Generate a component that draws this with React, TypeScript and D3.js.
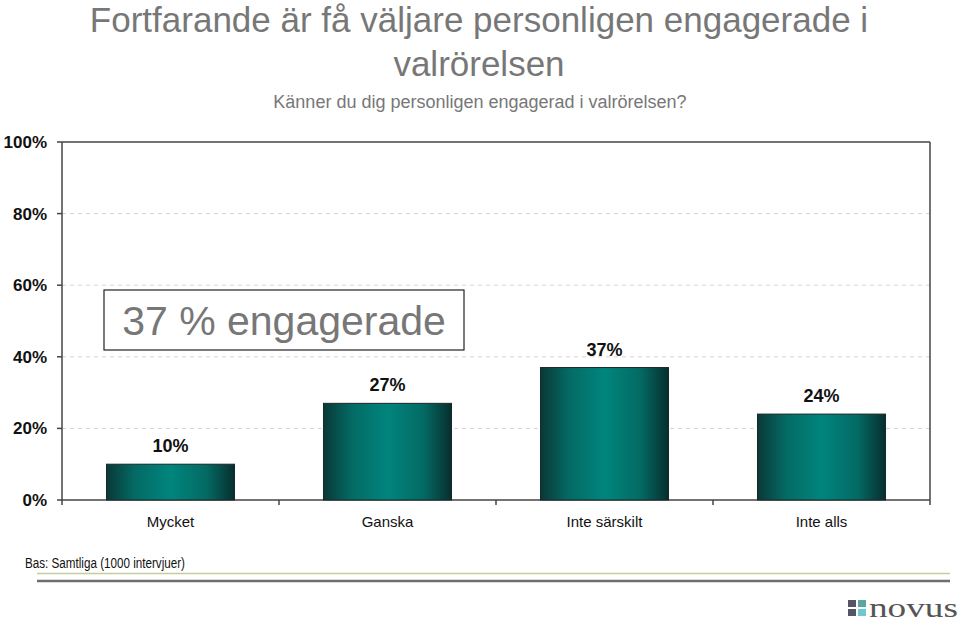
import React from "react";
import * as d3 from "d3";

const categories = ["Mycket", "Ganska", "Inte särskilt", "Inte alls"];
const values = [10, 27, 37, 24];
const yTicks = [0, 20, 40, 60, 80, 100];
const titleLines = ["Fortfarande är få väljare personligen engagerade i", "valrörelsen"];
const subtitle = "Känner du dig personligen engagerad i valrörelsen?";
const boxText = "37 % engagerade";
const footnote = "Bas: Samtliga (1000 intervjuer)";

const W = 960;
const H = 626;
const plot = { left: 62, right: 930, top: 142, bottom: 500 };

export default function App() {
  const x = d3
    .scaleBand<string>()
    .domain(categories)
    .range([plot.left, plot.right])
    .paddingInner(0.41)
    .paddingOuter(0.205);
  const y = d3.scaleLinear().domain([0, 100]).range([plot.bottom, plot.top]);
  const boundaries = d3.range(categories.length + 1).map(
    (i) => plot.left + ((plot.right - plot.left) / categories.length) * i
  );
  const sans = "'Liberation Sans', Arial, Helvetica, sans-serif";

  return (
    <svg
      width={W}
      height={H}
      style={{ position: "absolute", left: 0, top: 0, background: "#fff" }}
    >
      <defs>
        <linearGradient id="barGrad" x1="0" x2="1" y1="0" y2="0">
          <stop offset="0%" stopColor="#0a3837" />
          <stop offset="22%" stopColor="#046a64" />
          <stop offset="50%" stopColor="#00857d" />
          <stop offset="78%" stopColor="#046a64" />
          <stop offset="100%" stopColor="#062f2e" />
        </linearGradient>
      </defs>

      {/* Title */}
      {titleLines.map((t, i) => (
        <text
          key={t}
          x={479}
          y={32 + i * 44}
          textAnchor="middle"
          fontFamily={sans}
          fontSize={35}
          fill="#777"
        >
          {t}
        </text>
      ))}
      <text x={480} y={108} textAnchor="middle" fontFamily={sans} fontSize={18} fill="#777">
        {subtitle}
      </text>

      {/* gridlines */}
      {yTicks
        .filter((t) => t > 0 && t < 100)
        .map((t) => (
          <line
            key={t}
            x1={plot.left}
            x2={plot.right}
            y1={y(t)}
            y2={y(t)}
            stroke="#d4d4d4"
            strokeWidth={1}
            strokeDasharray="4,4"
          />
        ))}

      {/* plot border */}
      <line x1={plot.left} x2={plot.right} y1={plot.top} y2={plot.top} stroke="#444" strokeWidth={1.5} />
      <line x1={plot.right} x2={plot.right} y1={plot.top} y2={plot.bottom} stroke="#444" strokeWidth={1.5} />
      <line x1={plot.left} x2={plot.left} y1={plot.top} y2={plot.bottom} stroke="#444" strokeWidth={1.5} />
      <line x1={plot.left} x2={plot.right} y1={plot.bottom} y2={plot.bottom} stroke="#444" strokeWidth={1.5} />

      {/* y ticks & labels */}
      {yTicks.map((t) => (
        <g key={t}>
          <line x1={plot.left - 5} x2={plot.left} y1={y(t)} y2={y(t)} stroke="#444" strokeWidth={1.5} />
          <text
            x={47}
            y={y(t) + 6}
            textAnchor="end"
            fontFamily={sans}
            fontSize={17}
            fontWeight="bold"
            fill="#111"
          >
            {t}%
          </text>
        </g>
      ))}

      {/* x ticks */}
      {boundaries.map((b, i) => (
        <line key={i} x1={b} x2={b} y1={plot.bottom} y2={plot.bottom + 5} stroke="#444" strokeWidth={1.5} />
      ))}

      {/* bars */}
      {categories.map((c, i) => (
        <g key={c}>
          <rect
            x={x(c)!}
            y={y(values[i])}
            width={x.bandwidth()}
            height={plot.bottom - y(values[i])}
            fill="url(#barGrad)"
            stroke="#1c2626"
            strokeWidth={1}
          />
          <text
            x={x(c)! + x.bandwidth() / 2}
            y={y(values[i]) - 12}
            textAnchor="middle"
            fontFamily={sans}
            fontSize={18}
            fontWeight="bold"
            fill="#111"
          >
            {values[i]}%
          </text>
          <text
            x={x(c)! + x.bandwidth() / 2}
            y={527}
            textAnchor="middle"
            fontFamily={sans}
            fontSize={15}
            fill="#111"
          >
            {c}
          </text>
        </g>
      ))}

      {/* annotation box */}
      <rect x={104} y={290} width={360} height={60} fill="#fff" stroke="#222" strokeWidth={1.2} />
      <text x={284} y={335} textAnchor="middle" fontFamily={sans} fontSize={41} fill="#777">
        {boxText}
      </text>

      {/* footer */}
      <text
        x={25}
        y={568}
        fontFamily="'Liberation Sans Narrow', 'Arial Narrow', sans-serif"
        fontSize={14}
        fill="#111"
        textLength={160}
        lengthAdjust="spacingAndGlyphs"
      >
        {footnote}
      </text>
      <line x1={37} x2={950} y1={573.5} y2={573.5} stroke="#c8cc9a" strokeWidth={1.5} />
      <line x1={37} x2={950} y1={581} y2={581} stroke="#6e6e6e" strokeWidth={2.5} />

      {/* logo */}
      <rect x={848} y={600} width={8} height={7} fill="#556" />
      <rect x={858} y={600} width={8} height={7} fill="#5aa7a0" />
      <rect x={848} y={609} width={8} height={7} fill="#556" />
      <rect x={858} y={609} width={8} height={7} fill="#6cc9d0" />
      <text
        x={869}
        y={617}
        fontFamily="'Liberation Serif', 'Times New Roman', serif"
        fontSize={27}
        fill="#555"
        textLength={89}
        lengthAdjust="spacingAndGlyphs"
      >
        novus
      </text>
    </svg>
  );
}
